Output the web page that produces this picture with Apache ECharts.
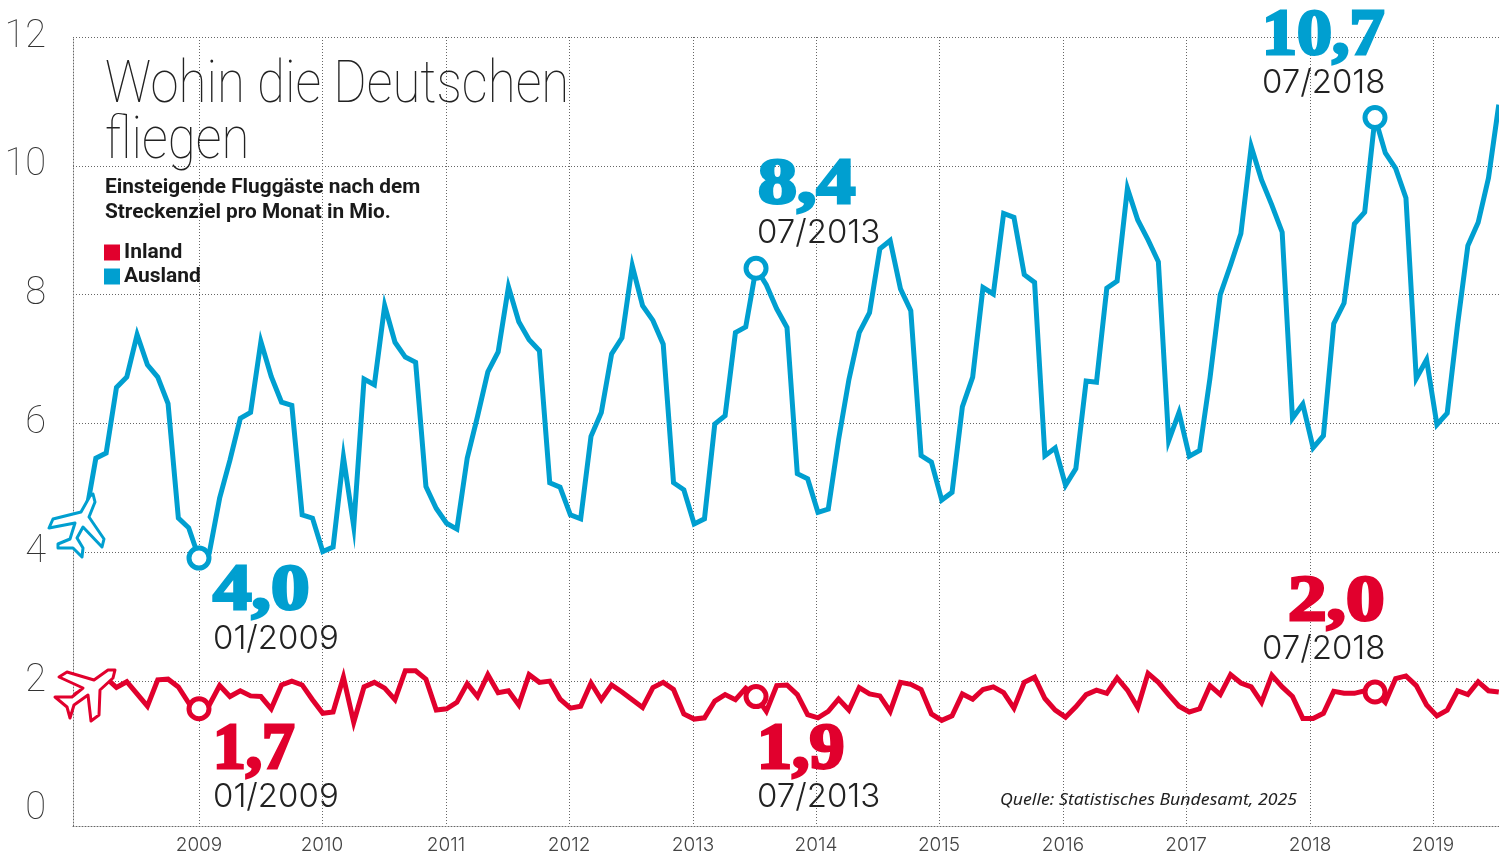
<!DOCTYPE html>
<html>
<head>
<meta charset="utf-8">
<title>Wohin die Deutschen fliegen</title>
<script src="https://cdn.jsdelivr.net/npm/echarts@6/dist/echarts.min.js"></script>
<style>
    html, body { margin: 0; padding: 0; background: #fff; }
    #chart { width: 1499px; height: 852px; }
</style>
</head>
<body>
<div id="chart"></div>
<script>
//Monatswerte ab 01/2008, in Mio.
let ausland = [
    4.40, 4.55, 5.46, 5.54, 6.56, 6.72, 7.38, 6.91, 6.72, 6.31, 4.53, 4.38,
    3.91, 3.99, 4.84, 5.43, 6.08, 6.17, 7.27, 6.73, 6.33, 6.28, 4.58, 4.53,
    4.01, 4.08, 5.48, 4.40, 6.69, 6.60, 7.83, 7.26, 7.03, 6.95, 5.02, 4.68,
    4.45, 4.36, 5.46, 6.11, 6.80, 7.11, 8.12, 7.58, 7.30, 7.13, 5.08, 5.01,
    4.58, 4.52, 5.80, 6.17, 7.08, 7.33, 8.45, 7.83, 7.60, 7.23, 5.08, 4.97,
    4.44, 4.52, 5.99, 6.12, 7.41, 7.50, 8.41, 8.15, 7.78, 7.49, 5.22, 5.14,
    4.62, 4.67, 5.75, 6.68, 7.41, 7.72, 8.71, 8.84, 8.09, 7.75, 5.50, 5.40,
    4.81, 4.93, 6.26, 6.72, 8.11, 8.01, 9.26, 9.20, 8.31, 8.19, 5.50, 5.62,
    5.04, 5.30, 6.66, 6.64, 8.10, 8.21, 9.65, 9.16, 8.85, 8.51, 5.73, 6.17,
    5.49, 5.58, 6.70, 8.00, 8.46, 8.95, 10.30, 9.78, 9.39, 8.97, 6.08, 6.30,
    5.62, 5.81, 7.55, 7.87, 9.10, 9.28, 10.75, 10.20, 9.96, 9.50, 6.70, 6.99,
    5.98, 6.16, 7.53, 8.76, 9.12, 9.81, 10.95
];
let inland = [
    1.79, 1.86, 1.94, 2.05, 1.90, 1.99, 1.80, 1.61, 2.02, 2.03, 1.91, 1.66,
    1.57, 1.63, 1.93, 1.76, 1.85, 1.77, 1.76, 1.57, 1.94, 2.00, 1.94, 1.71,
    1.50, 1.52, 2.06, 1.36, 1.91, 1.98, 1.89, 1.71, 2.16, 2.16, 2.03, 1.55,
    1.57, 1.67, 1.96, 1.76, 2.10, 1.82, 1.85, 1.63, 2.10, 1.98, 2.00, 1.72,
    1.58, 1.61, 1.97, 1.71, 1.94, 1.83, 1.71, 1.59, 1.90, 1.98, 1.87, 1.49,
    1.41, 1.43, 1.69, 1.79, 1.71, 1.89, 1.76, 1.53, 1.93, 1.94, 1.79, 1.48,
    1.43, 1.53, 1.72, 1.55, 1.90, 1.80, 1.77, 1.53, 1.98, 1.95, 1.87, 1.49,
    1.39, 1.46, 1.80, 1.72, 1.87, 1.91, 1.82, 1.58, 1.98, 2.06, 1.73, 1.55,
    1.44, 1.60, 1.79, 1.86, 1.81, 2.05, 1.86, 1.59, 2.12, 1.98, 1.79, 1.61,
    1.52, 1.57, 1.93, 1.79, 2.10, 1.97, 1.91, 1.67, 2.09, 1.91, 1.76, 1.42,
    1.42, 1.50, 1.84, 1.81, 1.81, 1.85, 1.83, 1.67, 2.04, 2.08, 1.93, 1.63,
    1.46, 1.55, 1.85, 1.79, 1.99, 1.85, 1.83
];
//Jahresstriche: im Original etwas enger als das Monatsraster der Kurven
let yearTicks = [12, 23.92, 35.94, 47.87, 59.89, 71.81, 83.73, 95.75, 107.68, 119.7, 131.62];
let yearLabels = ["2009", "2010", "2011", "2012", "2013", "2014", "2015", "2016", "2017", "2018", "2019"];
let valueLabels = [0, 2, 4, 6, 8, 10, 12];
let gridValues = [2, 4, 6, 8, 10, 12];
let markMonths = [12, 66, 126]; //01/2009, 07/2013, 07/2018

const BLUE = "#009fd0";
const RED = "#e1002d";
const INK = "#222222";
const GRID = "#666666";

function points(list) {
    return list.map(function (v, i) {
        return [i, v];
    });
}

function marks(list) {
    return markMonths.map(function (m) {
        return [m, list[m]];
    });
}

function txt(text, x, y, font, fill, extra) {
    let style = { text: text, x: 0, y: 0, font: font, fill: fill, align: "left", verticalAlign: "middle" };
    let el = { type: "text", x: x, y: y, z: 100, style: style };
    if (extra) {
        if (extra.scaleX) el.scaleX = extra.scaleX;
        if (extra.border) {
            style.stroke = fill;
            style.lineWidth = extra.border;
        }
    }
    return el;
}

const BIG = "bold 66px 'Liberation Serif'";
const DATE = "300 33px Inter";
const TITLE = "100 60px Roboto";
const SUB = "bold 20.8px Roboto";

let texts = [
    txt("Wohin die Deutschen", 105, 87, TITLE, INK, { scaleX: 0.85 }),
    txt("fliegen", 105, 143, TITLE, INK, { scaleX: 0.85 }),
    txt("Einsteigende Fluggäste nach dem", 105, 188, SUB, "#1a1a1a"),
    txt("Streckenziel pro Monat in Mio.", 105, 213, SUB, "#1a1a1a"),
    txt("10,7", 1262, 37, BIG, BLUE, { border: 3, scaleX: 1.06 }),
    txt("07/2018", 1262, 83, DATE, INK),
    txt("8,4", 758, 186, BIG, BLUE, { border: 3, scaleX: 1.18 }),
    txt("07/2013", 757, 233, DATE, INK),
    txt("4,0", 213, 592, BIG, BLUE, { border: 3, scaleX: 1.17 }),
    txt("01/2009", 213, 639, DATE, INK),
    txt("2,0", 1288, 603, BIG, RED, { border: 3, scaleX: 1.17 }),
    txt("07/2018", 1262, 649, DATE, INK),
    txt("1,7", 213, 751, BIG, RED, { border: 3, scaleX: 0.99 }),
    txt("01/2009", 213, 797, DATE, INK),
    txt("1,9", 757, 751, BIG, RED, { border: 3, scaleX: 1.06 }),
    txt("07/2013", 757, 797, DATE, INK),
    txt("Quelle: Statistisches Bundesamt, 2025", 1000, 800, "italic 16px 'Noto Sans'", INK, { scaleX: 1.107 })
];

//Flugzeuge, nur Schmuck
let planeBlue = [[90, 496], [81, 512], [53, 519], [49, 528], [75, 523], [70, 539], [58, 544], [58, 548], [73, 548], [82, 557], [83, 548], [77, 538], [83, 527], [102, 547], [104, 539], [89, 517], [95, 502], [93, 494]];
let planeRed = [[115, 670], [108, 670], [94, 680], [67, 672], [59, 677], [83, 688], [72, 697], [55, 697], [67, 707], [70, 718], [74, 705], [88, 695], [91, 721], [99, 715], [100, 690], [113, 678]];

function plane(list, color) {
    return {
        type: "polygon",
        z: 90,
        shape: { points: list },
        style: { fill: "#fff", stroke: color, lineWidth: 3, lineJoin: "round" }
    };
}

let myChart = echarts.init(document.getElementById("chart"));
let option = {
    animation: false,
    backgroundColor: "#fff",
    textStyle: { fontFamily: "Roboto" },
    grid: { left: 73, right: 0, top: 37, height: 789, outerBoundsMode: "none" },
    legend: {
        left: 104,
        top: 242,
        orient: "vertical",
        icon: "rect",
        itemWidth: 16,
        itemHeight: 16,
        itemGap: 3,
        selectedMode: false,
        padding: 0,
        data: ["Inland", "Ausland"],
        textStyle: { color: "#1a1a1a", fontFamily: "Roboto", fontWeight: "bold", fontSize: 21, padding: [0, 0, 0, -1] }
    },
    xAxis: {
        type: "value",
        min: -0.214,
        max: 138.02,
        axisLine: { show: true, onZero: false, lineStyle: { color: GRID, type: [1, 2], width: 1 } },
        axisTick: { show: false, customValues: yearTicks },
        splitLine: { show: true, lineStyle: { color: GRID, type: [1, 2], width: 1 } },
        axisLabel: {
            customValues: yearTicks,
            margin: 10,
            color: "#444",
            fontFamily: "Inter",
            fontWeight: 300,
            fontSize: 19,
            showMinLabel: true,
            showMaxLabel: true,
            formatter: function (v) {
                return yearLabels[yearTicks.indexOf(v)];
            }
        }
    },
    yAxis: {
        type: "value",
        min: -0.25,
        max: 12,
        axisLine: { show: true, onZero: false, lineStyle: { color: GRID, type: [1, 2], width: 1 } },
        axisTick: { show: false, customValues: gridValues },
        splitLine: { show: true, lineStyle: { color: GRID, type: [1, 2], width: 1 } },
        axisLabel: {
            customValues: valueLabels,
            margin: 27,
            color: "#333",
            fontFamily: "Roboto",
            fontWeight: 100,
            fontSize: 38,
            padding: [0, 0, 3, 0],
            showMinLabel: true,
            showMaxLabel: true
        }
    },
    series: [
        {
            name: "Inland",
            type: "line",
            data: points(inland),
            showSymbol: false,
            symbol: "none",
            clip: false,
            z: 3,
            itemStyle: { color: RED },
            lineStyle: { color: RED, width: 5, join: "miter" }
        },
        {
            name: "Ausland",
            type: "line",
            data: points(ausland),
            showSymbol: false,
            symbol: "none",
            clip: false,
            z: 3,
            itemStyle: { color: BLUE },
            lineStyle: { color: BLUE, width: 5, join: "miter" }
        },
        {
            name: "Inland Marke",
            type: "scatter",
            data: marks(inland),
            symbolSize: 20,
            z: 5,
            itemStyle: { color: "#fff", borderColor: RED, borderWidth: 5, opacity: 1 }
        },
        {
            name: "Ausland Marke",
            type: "scatter",
            data: marks(ausland),
            symbolSize: 20,
            z: 5,
            itemStyle: { color: "#fff", borderColor: BLUE, borderWidth: 5, opacity: 1 }
        }
    ],
    graphic: { elements: [plane(planeBlue, BLUE), plane(planeRed, RED)].concat(texts) }
};
myChart.setOption(option);
</script>
</body>
</html>
